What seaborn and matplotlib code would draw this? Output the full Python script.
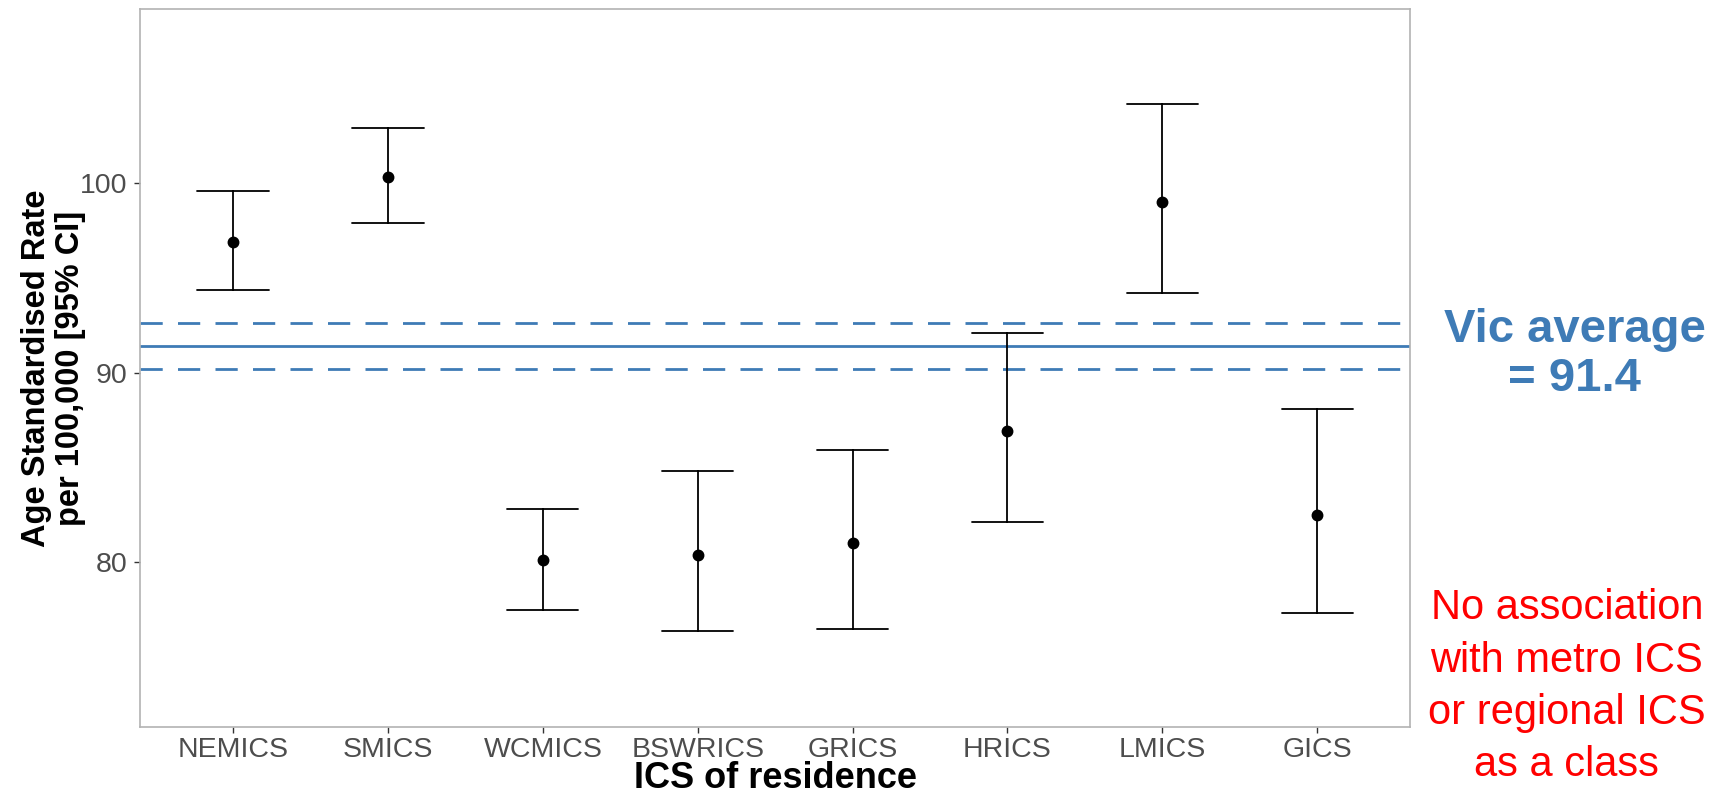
import matplotlib
matplotlib.use("Agg")
import matplotlib.pyplot as plt
import numpy as np
import pandas as pd
import seaborn as sns

ics = ["NEMICS", "SMICS", "WCMICS", "BSWRICS", "GRICS", "HRICS", "LMICS", "GICS"]
asr = [96.9, 100.3, 80.1, 80.4, 81.0, 86.9, 99.0, 82.5]
ci_low = [94.35, 97.9, 77.5, 76.35, 76.5, 82.1, 94.2, 77.3]
ci_high = [99.6, 102.9, 82.8, 84.8, 85.9, 92.1, 104.2, 88.1]

vic_avg = 91.4
vic_low = 90.2
vic_high = 92.6

blue = "#3E7BB6"

# long form: lower / estimate / upper per ICS -> median = estimate, full range = CI
df = pd.DataFrame({
    "ics": ics * 3,
    "rate": asr + ci_low + ci_high,
})

sns.set_style("white")
plt.rcParams["font.family"] = ["Liberation Sans", "DejaVu Sans"]

fig = plt.figure(figsize=(17.18, 7.95), dpi=100)
ax = fig.add_axes([0.0816, 0.0854, 0.7392, 0.9036])

ax.axhline(vic_avg, color=blue, lw=2.0, zorder=1)
for v in (vic_low, vic_high):
    ax.axhline(v, color=blue, lw=2.0, dashes=(8, 5.5), zorder=1)

sns.pointplot(data=df, x="ics", y="rate", order=ics, estimator="median",
              errorbar=("pi", 100), capsize=0.46, linestyle="none",
              color="black", marker="o", markersize=6.5,
              err_kws={"linewidth": 1.3}, ax=ax)

ax.set_xlim(-0.6, len(ics) - 0.4)
ax.set_ylim(71.3, 109.2)
ax.set_yticks([80, 90, 100])

for s in ax.spines.values():
    s.set_color("#B3B3B3")
    s.set_linewidth(1.2)

ax.tick_params(axis="both", which="major", labelsize=20.5, labelcolor="#4D4D4D",
               color="#333333", length=4, width=1)
ax.tick_params(axis="y", pad=5)
ax.tick_params(axis="x", pad=3)
ax.yaxis.set_ticks_position("left")
ax.xaxis.set_ticks_position("bottom")

ax.set_xlabel("ICS of residence", fontsize=26, fontweight="bold", color="black", labelpad=-1)
ax.set_ylabel("Age Standardised Rate\nper 100,000 [95% CI]", fontsize=23.5,
              fontweight="bold", color="black", linespacing=1.1)
ax.yaxis.set_label_coords(-0.043, 0.5)

fig.text(0.9165, 0.554, "Vic average\n= 91.4", color=blue, fontsize=34,
         fontweight="bold", ha="center", va="center", linespacing=1.15)
fig.text(0.912, 0.136, "No association\nwith metro ICS\nor regional ICS\nas a class",
         color="red", fontsize=30, ha="center", va="center", linespacing=1.4)

fig.savefig("out.png", dpi=100)
